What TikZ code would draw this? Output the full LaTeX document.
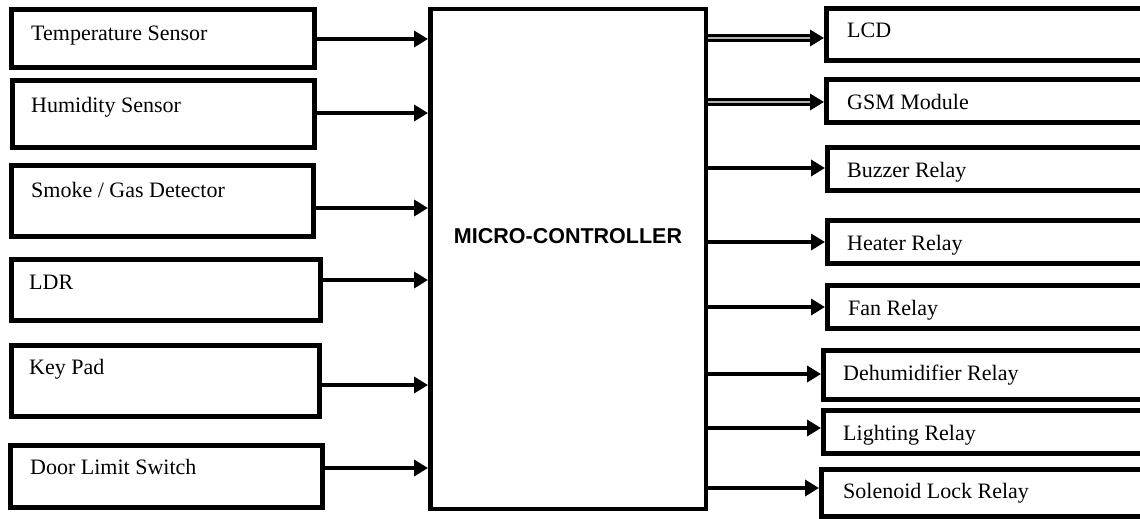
\documentclass[tikz,border=0pt]{standalone}
\usepackage{fontspec}
\setmainfont{Liberation Serif}
\newfontfamily\mcfont{Liberation Sans}
\usetikzlibrary{arrows.meta}
\begin{document}
\begin{tikzpicture}[x=1pt,y=-1pt,
  blk/.style={draw=black, line width=5pt, inner sep=0pt, fill=white},
  mcbox/.style={draw=black, line width=4.5pt, inner sep=0pt},
  lbl/.style={anchor=base west, inner sep=0pt, font=\fontsize{22}{26}\selectfont},
  arr/.style={line width=4.2pt, -{Triangle[length=14pt,width=16pt]}},
  inner/.style={draw=gray!60, line width=2.4pt}
]
\useasboundingbox (0,0) rectangle (1140,519);
\clip (0,0) rectangle (1140,519);
% left boxes
\node[blk, minimum width=303pt, minimum height=58pt] (temp) at (163,38.5) {};
\node[blk, minimum width=302pt, minimum height=67pt] (hum) at (163.5,114) {};
\node[blk, minimum width=302pt, minimum height=71pt] (smoke) at (162.5,201) {};
\node[blk, minimum width=309pt, minimum height=61pt] (ldr) at (166,290) {};
\node[blk, minimum width=308pt, minimum height=71pt] (key) at (165.5,381) {};
\node[blk, minimum width=312pt, minimum height=62pt] (door) at (166.5,476.5) {};
\node[lbl] (ttemp) at (31,41) {Temperature Sensor};
\node[lbl] (thum) at (31,112) {Humidity Sensor};
\node[lbl] (tsmoke) at (31,197) {Smoke / Gas Detector};
\node[lbl] (tldr) at (29,289) {LDR};
\node[lbl] (tkey) at (29,374) {Key Pad};
\node[lbl] (tdoor) at (30,474) {Door Limit Switch};
% micro-controller
\node[mcbox, minimum width=275.5pt, minimum height=499.5pt] (mc) at (568,259) {};
\node[inner sep=0pt, font=\mcfont\bfseries\fontsize{21.5}{25}\selectfont] (tmc) at (568,236) {MICRO-CONTROLLER};
% right boxes
\node[blk, minimum width=321pt, minimum height=52pt] (lcd) at (987,34.5) {};
\node[blk, minimum width=321pt, minimum height=43pt] (gsm) at (987,101) {};
\node[blk, minimum width=320pt, minimum height=43pt] (buz) at (987.5,169) {};
\node[blk, minimum width=320pt, minimum height=43pt] (heat) at (987.5,242) {};
\node[blk, minimum width=320pt, minimum height=43pt] (fan) at (987.5,307) {};
\node[blk, minimum width=324pt, minimum height=49pt] (dehum) at (985.5,375) {};
\node[blk, minimum width=324pt, minimum height=43pt] (light) at (985.5,432) {};
\node[blk, minimum width=326pt, minimum height=47pt] (sol) at (984.5,493) {};
\node[lbl] (tlcd) at (847,38) {LCD};
\node[lbl] (tgsm) at (847,109) {GSM Module};
\node[lbl] (tbuz) at (847,177) {Buzzer Relay};
\node[lbl] (theat) at (847,250) {Heater Relay};
\node[lbl] (tfan) at (848,315) {Fan Relay};
\node[lbl] (tdehum) at (843,380) {Dehumidifier Relay};
\node[lbl] (tlight) at (843,440) {Lighting Relay};
\node[lbl] (tsol) at (843,498) {Solenoid Lock Relay};
% input arrows
\draw[arr] (temp.east |- 0,39) -- (mc.west |- 0,39);
\draw[arr] (hum.east |- 0,113) -- (mc.west |- 0,113);
\draw[arr] (smoke.east |- 0,208) -- (mc.west |- 0,208);
\draw[arr] (ldr.east |- 0,280) -- (mc.west |- 0,280);
\draw[arr] (key.east |- 0,385) -- (mc.west |- 0,385);
\draw[arr] (door.east |- 0,468) -- (mc.west |- 0,468);
% output arrows (double for LCD and GSM)
\draw[arr, line width=8pt] (mc.east |- 0,38) -- (lcd.west |- 0,38);
\draw[inner] (mc.east |- 0,38) -- ([xshift=-14pt]lcd.west |- 0,38);
\draw[arr, line width=8pt] (mc.east |- 0,102) -- (gsm.west |- 0,102);
\draw[inner] (mc.east |- 0,102) -- ([xshift=-14pt]gsm.west |- 0,102);
\draw[arr] (mc.east |- 0,168) -- (buz.west |- 0,168);
\draw[arr] (mc.east |- 0,242) -- (heat.west |- 0,242);
\draw[arr] (mc.east |- 0,307) -- (fan.west |- 0,307);
\draw[arr] (mc.east |- 0,374) -- (dehum.west |- 0,374);
\draw[arr] (mc.east |- 0,428) -- (light.west |- 0,428);
\draw[arr] (mc.east |- 0,488) -- (sol.west |- 0,488);
\end{tikzpicture}
\end{document}
